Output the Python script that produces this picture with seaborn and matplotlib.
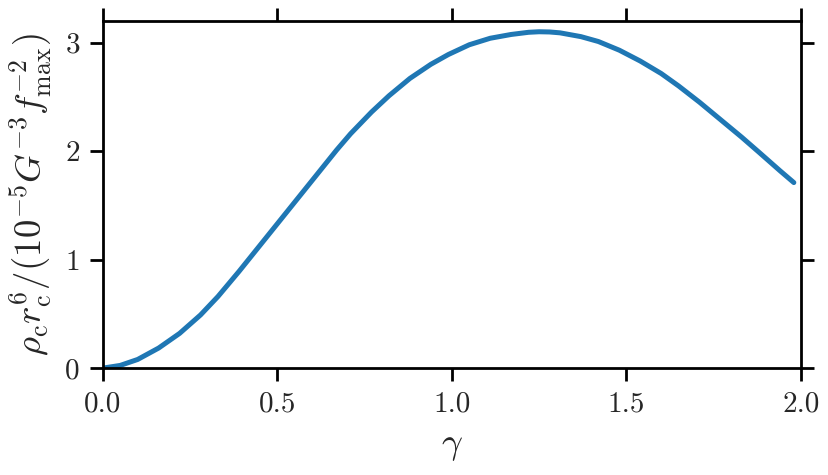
import numpy as np
import pandas as pd
import matplotlib
matplotlib.use("Agg")
import matplotlib.pyplot as plt
import seaborn as sns

# values
gamma = [0.0, 0.05, 0.10, 0.16, 0.22, 0.28, 0.33, 0.39, 0.45, 0.51, 0.56, 0.62,
         0.65, 0.67, 0.71, 0.77, 0.82, 0.88, 0.94, 0.99, 1.05, 1.11, 1.17, 1.22,
         1.25, 1.28, 1.31, 1.37, 1.42, 1.48, 1.54, 1.60, 1.65, 1.71, 1.77, 1.83,
         1.88, 1.94, 1.98]
rho_r6 = [0.0, 0.025, 0.08, 0.185, 0.32, 0.49, 0.66, 0.89, 1.13, 1.37, 1.57, 1.81,
          1.93, 2.01, 2.16, 2.36, 2.51, 2.67, 2.80, 2.89, 2.98, 3.04, 3.075, 3.095,
          3.10, 3.098, 3.09, 3.055, 3.01, 2.93, 2.83, 2.715, 2.60, 2.45, 2.29, 2.13,
          1.99, 1.82, 1.71]

xticks = [0.0, 0.5, 1.0, 1.5, 2.0]
yticks = [0, 1, 2, 3]

df = pd.DataFrame({"gamma": gamma, "rho": rho_r6})

sns.set_style("ticks")
plt.rcParams["font.family"] = ["cmr10", "DejaVu Serif"]
plt.rcParams["mathtext.fontset"] = "cm"
plt.rcParams["axes.unicode_minus"] = False
plt.rcParams["axes.formatter.use_mathtext"] = True

fig = plt.figure(figsize=(8.29, 4.75), dpi=100)
ax = fig.add_axes([0.124, 0.225, 0.842, 0.731])

sns.lineplot(data=df, x="gamma", y="rho", ax=ax, color="#1f77b4", linewidth=3.6)

ax.set_xlim(0, 2.0)
ax.set_ylim(0, 3.2)
ax.set_xticks(xticks)
ax.set_yticks(yticks)
ax.set_xticklabels(["%.1f" % t for t in xticks])
ax.set_yticklabels([str(t) for t in yticks])

ax.tick_params(which="both", direction="out", length=9.5, width=2.0,
               labelsize=21, pad=7, top=True, right=True,
               labeltop=False, labelright=False, color="black")
for s in ax.spines.values():
    s.set_visible(True)
    s.set_linewidth(2.0)
    s.set_color("black")

ax.set_xlabel(r"$\gamma$", fontsize=26.5, labelpad=9)
ax.set_ylabel(r"$\rho_\mathrm{c} r_\mathrm{c}^6/(10^{-5} G^{-3} f_\mathrm{max}^{-2})$",
              fontsize=26.5, labelpad=8)

fig.savefig("out.png", dpi=100)
